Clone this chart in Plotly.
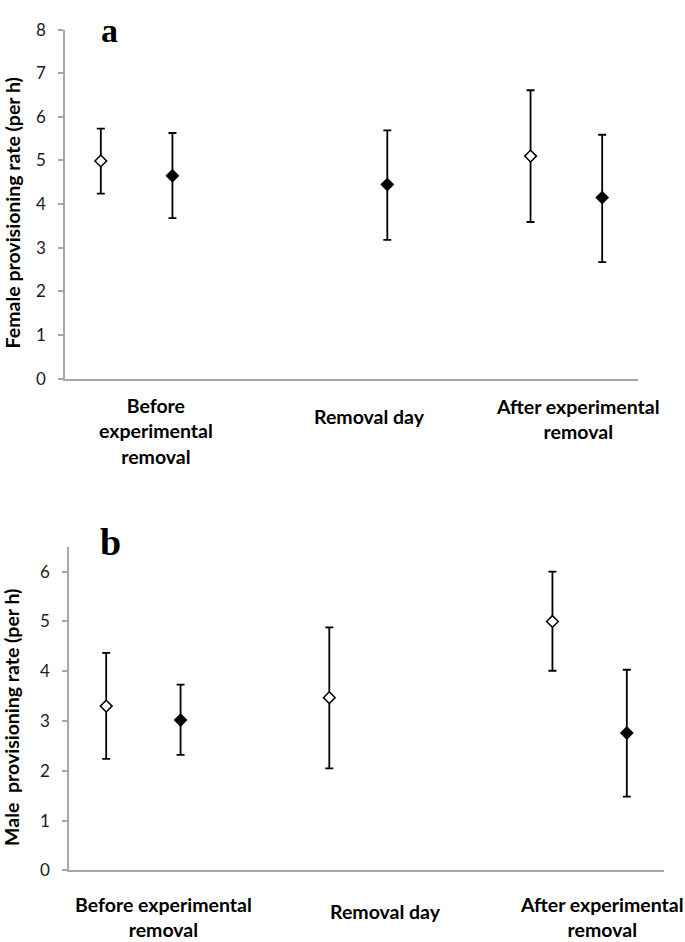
import plotly.graph_objects as go

# ---------------- data ----------------
# category slot positions (8 slots per panel) and values
female_open_x = [0.5, 6.5]
female_open_mean = [4.99, 5.10]
female_open_lo = [4.24, 3.59]
female_open_hi = [5.73, 6.61]

female_filled_x = [1.5, 4.5, 7.5]
female_filled_mean = [4.65, 4.45, 4.15]
female_filled_lo = [3.68, 3.18, 2.67]
female_filled_hi = [5.63, 5.69, 5.59]

male_open_x = [0.5, 3.5, 6.5]
male_open_mean = [3.30, 3.47, 5.00]
male_open_lo = [2.24, 2.05, 4.01]
male_open_hi = [4.37, 4.88, 6.00]

male_filled_x = [1.5, 7.5]
male_filled_mean = [3.02, 2.76]
male_filled_lo = [2.32, 1.48]
male_filled_hi = [3.73, 4.03]

female_labels = ["Before<br>experimental<br>removal", "Removal day", "After experimental<br>removal"]
male_labels = ["Before experimental<br>removal", "Removal day", "After experimental<br>removal"]
label_slots = [1.27, 4.25, 7.16]
female_ticks = [0, 1, 2, 3, 4, 5, 6, 7, 8]
male_ticks = [0, 1, 2, 3, 4, 5, 6]

W, H = 685, 942
FONT = "Lato"


def px_x(p):
    return p / W


def px_y(p):
    return 1 - p / H


def series(x, mean, lo, hi, filled, xa, ya):
    return go.Scatter(
        x=x, y=mean, mode="markers", xaxis=xa, yaxis=ya, showlegend=False,
        marker=dict(symbol="diamond", size=9,
                    color="black" if filled else "white",
                    line=dict(color="black", width=1.5)),
        error_y=dict(type="data", symmetric=False,
                     array=[h - m for h, m in zip(hi, mean)],
                     arrayminus=[m - l for m, l in zip(mean, lo)],
                     color="black", thickness=1.8, width=4),
    )


fig = go.Figure()
fig.add_trace(series(female_open_x, female_open_mean, female_open_lo, female_open_hi, False, "x", "y"))
fig.add_trace(series(female_filled_x, female_filled_mean, female_filled_lo, female_filled_hi, True, "x", "y"))
fig.add_trace(series(male_open_x, male_open_mean, male_open_lo, male_open_hi, False, "x2", "y2"))
fig.add_trace(series(male_filled_x, male_filled_mean, male_filled_lo, male_filled_hi, True, "x2", "y2"))

axis_col = "#a6a6a6"
xcommon = dict(range=[0, 8], showgrid=False, zeroline=False, showline=True,
               linecolor=axis_col, linewidth=1.5, ticks="", showticklabels=False, fixedrange=True)
ycommon = dict(showgrid=False, zeroline=False, showline=True, linecolor=axis_col,
               linewidth=1.5, ticks="outside", ticklen=5, tickcolor=axis_col, tickwidth=1.5,
               tickfont=dict(family=FONT, size=17, color="#1a1a1a"), ticklabelstandoff=9,
               fixedrange=True)

fig.update_layout(
    width=W, height=H, margin=dict(l=0, r=0, t=0, b=0),
    paper_bgcolor="white", plot_bgcolor="white",
    xaxis=dict(domain=[px_x(65), px_x(638)], anchor="y", **xcommon),
    yaxis=dict(domain=[px_y(376), px_y(19)], anchor="x", range=[0, 8],
               tickvals=female_ticks, **ycommon),
    xaxis2=dict(domain=[px_x(69), px_x(664)], anchor="y2", **xcommon),
    yaxis2=dict(domain=[px_y(879), px_y(548)], anchor="x2", range=[0, 6.5],
                tickvals=male_ticks, **ycommon),
)

ann = []
lab_font = dict(family=FONT, size=19.5, color="black")
for txt, xv, yp in zip(female_labels, label_slots, [430, 415, 417]):
    ann.append(dict(text="<b>" + txt + "</b>", x=xv, xref="x", y=px_y(yp), yref="paper",
                    showarrow=False, xanchor="center", yanchor="middle", font=lab_font, align="center"))
for txt, xv, yp in zip(male_labels, label_slots, [927, 921, 927]):
    ann.append(dict(text="<b>" + txt + "</b>", x=xv, xref="x2", y=px_y(yp), yref="paper",
                    showarrow=False, xanchor="center", yanchor="middle", font=lab_font, align="center"))
# axis titles
ann.append(dict(text="<b>Female provisioning rate (per h)</b>", x=px_x(12), y=px_y(207),
                xref="paper", yref="paper", textangle=-90, showarrow=False,
                xanchor="center", yanchor="middle", font=lab_font))
ann.append(dict(text="<b>Male  provisioning rate (per h)</b>", x=px_x(12), y=px_y(723),
                xref="paper", yref="paper", textangle=-90, showarrow=False,
                xanchor="center", yanchor="middle", font=lab_font))
# panel letters
ann.append(dict(text="<b>a</b>", x=px_x(109), y=1.0, xref="paper", yref="paper",
                showarrow=False, xanchor="center", yanchor="top", borderpad=0,
                font=dict(family="Liberation Serif", size=34, color="black")))
ann.append(dict(text="<b>b</b>", x=px_x(110), y=px_y(543), xref="paper", yref="paper",
                showarrow=False, xanchor="center", yanchor="middle",
                font=dict(family="Liberation Serif", size=38, color="black")))
fig.update_layout(annotations=ann)

fig.write_html("out.html", config={"displayModeBar": False},
               post_script="document.body.style.margin='0px';")
